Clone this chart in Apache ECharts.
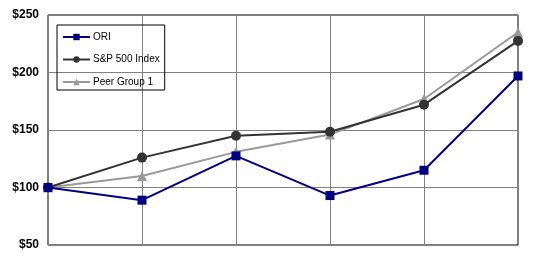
<!DOCTYPE html>
<html><head><meta charset="utf-8">
<script src="https://cdn.jsdelivr.net/npm/echarts@6/dist/echarts.min.js"></script>
<style>html,body{margin:0;padding:0;background:#fff}#c{width:547px;height:266px}</style>
</head><body><div id="c"></div>
<script>
const categories = ['2013','2014','2015','2016','2017','2018'];
const ori = [100, 89, 127.5, 93, 115, 197];
const sp500 = [100, 126, 145, 148.5, 172, 227.5];
const peer = [100, 110, 131, 146, 177, 235];
const yTicks = [50, 100, 150, 200, 250];

const chart = echarts.init(document.getElementById('c'), null, {renderer:'canvas'});
chart.setOption({
  animation: false,
  backgroundColor: '#fff',
  grid: {left: 48, right: 29, top: 15, bottom: 21, show: true, borderColor: '#000', borderWidth: 1},
  legend: {
    orient: 'vertical', left: 57, top: 25,
    borderColor: '#000', borderWidth: 1, padding: [7, 5, 3, 5], itemGap: 12.5,
    itemWidth: 27, itemHeight: 8,
    textStyle: {fontFamily: 'Liberation Sans, Arial', fontSize: 10, color: '#000', padding: [0, 0, 0, -2]},
    data: ['ORI', 'S&P 500 Index', 'Peer Group 1']
  },
  xAxis: {
    type: 'category', data: categories, boundaryGap: false,
    axisLabel: {show: false}, axisTick: {show: false},
    axisLine: {show: false},
    splitLine: {show: true, lineStyle: {color: '#808080', width: 1}}
  },
  yAxis: {
    type: 'value', min: 50, max: 250, interval: 50,
    axisLine: {show: false}, axisTick: {show: false},
    axisLabel: {margin: 9, color: '#000', fontFamily: 'Liberation Sans, Arial', fontWeight: 'bold', fontSize: 12,
      formatter: v => yTicks.includes(v) ? '$' + v : ''},
    splitLine: {show: true, lineStyle: {color: '#808080', width: 1}}
  },
  series: [
    {name: 'Peer Group 1', type: 'line', data: peer, z: 2, symbol: 'triangle', symbolSize: 10,
     lineStyle: {color: '#999999', width: 2}, itemStyle: {color: '#999999'}},
    {name: 'S&P 500 Index', type: 'line', data: sp500, z: 3, symbol: 'circle', symbolSize: 10,
     lineStyle: {color: '#333333', width: 2}, itemStyle: {color: '#333333'}},
    {name: 'ORI', type: 'line', data: ori, z: 4, symbol: 'rect', symbolSize: 9,
     lineStyle: {color: '#000080', width: 2}, itemStyle: {color: '#000080'}}
  ]
});
</script></body></html>
